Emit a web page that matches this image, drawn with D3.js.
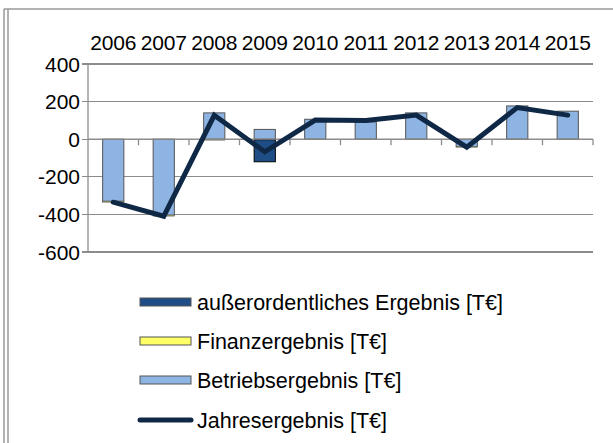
<!DOCTYPE html>
<html><head><meta charset="utf-8">
<script src="https://cdn.jsdelivr.net/npm/d3@7"></script>
<style>body{margin:0;background:#fff}svg{display:block}text{font-family:"Liberation Sans",Arial,sans-serif}</style>
</head><body><div id="c"></div>
<script>
const years = ["2006","2007","2008","2009","2010","2011","2012","2013","2014","2015"];
const betrieb = [-330,-404,140,52,106,92,140,-40,177,149];
const finanz = [-5,-5,-5,-3,-2,-2,-2,-2,-2,-2];
const ausser = [0,0,0,-117,0,0,0,0,0,0];
const jahres = [-335,-410,127,-67,102,100,128,-42,168,128];
const yTicks = [400,200,0,-200,-400,-600];
const seriesNames = ["außerordentliches Ergebnis [T€]","Finanzergebnis [T€]","Betriebsergebnis [T€]","Jahresergebnis [T€]"];

const W=613,H=443;
const svg=d3.select("#c").append("svg").attr("width",W).attr("height",H);
// frame
svg.append("line").attr("x1",4).attr("x2",4).attr("y1",9).attr("y2",H).attr("stroke","#999").attr("stroke-width",1.5);
svg.append("line").attr("x1",8).attr("x2",8).attr("y1",9).attr("y2",H).attr("stroke","#999").attr("stroke-width",1.5);
svg.append("line").attr("x1",4).attr("x2",W).attr("y1",9).attr("y2",9).attr("stroke","#999").attr("stroke-width",1.5);

const x=d3.scaleBand().domain(years).range([88,593]).paddingInner(0.58).paddingOuter(0.29);
const xb=d3.scaleBand().domain(years).range([88,593]);
const y=d3.scaleLinear().domain([-600,400]).range([252,64]);

// gridlines
svg.append("g").selectAll("line").data(yTicks).join("line")
 .attr("x1",82).attr("x2",593).attr("y1",d=>y(d)).attr("y2",d=>y(d))
 .attr("stroke","#8c8c8c").attr("stroke-width",1.3).attr("shape-rendering","crispEdges");
// y axis
svg.append("line").attr("x1",88).attr("x2",88).attr("y1",y(400)).attr("y2",y(-600)).attr("stroke","#8c8c8c").attr("stroke-width",1.3);
svg.append("g").selectAll("text").data(yTicks).join("text")
 .attr("x",80).attr("y",d=>y(d)+7.5).attr("text-anchor","end").attr("font-size",21).attr("fill","#000").text(d=>d);

// stacked bars
const stackData = years.map((yr,i)=>({yr, b:betrieb[i], f:finanz[i], a:ausser[i]}));
const keys=[["b","#8db4e2"],["f","#ffff66"],["a","#1f4e86"]];
stackData.forEach(d=>{
  let pos=0,neg=0;
  keys.forEach(([k,col])=>{
    const v=d[k]; if(v===0) return;
    let y0,y1;
    if(v>0){y0=pos;y1=pos+v;pos=y1;} else {y0=neg;y1=neg+v;neg=y1;}
    svg.append("rect").attr("x",x(d.yr)).attr("width",x.bandwidth())
      .attr("y",y(Math.max(y0,y1))).attr("height",Math.abs(y(y0)-y(y1)))
      .attr("fill",col).attr("stroke",k==="a"?"#000":"#555").attr("stroke-width",k==="f"?0.6:1);
  });
});

// x axis at 0
svg.append("line").attr("x1",88).attr("x2",593).attr("y1",y(0)).attr("y2",y(0)).attr("stroke","#8c8c8c").attr("stroke-width",1.3);
svg.append("g").selectAll("line").data(years.slice(1).concat(["end"])).join("line")
 .attr("x1",d=>d==="end"?593:xb(d)).attr("x2",d=>d==="end"?593:xb(d))
 .attr("y1",y(0)).attr("y2",y(0)+6).attr("stroke","#8c8c8c").attr("stroke-width",1.3);
// year labels
svg.append("g").selectAll("text").data(years).join("text")
 .attr("x",d=>xb(d)+xb.bandwidth()/2).attr("y",50).attr("text-anchor","middle")
 .attr("font-size",21).attr("letter-spacing",-0.2).attr("fill","#000").text(d=>d);

// line
const line=d3.line().x((d,i)=>xb(years[i])+xb.bandwidth()/2).y(d=>y(d));
svg.append("path").datum(jahres).attr("d",line).attr("fill","none")
 .attr("stroke","#0f2846").attr("stroke-width",5).attr("stroke-linejoin","miter").attr("stroke-linecap","round");

// legend
const lg=svg.append("g");
const rowsY=[302,341,380,420];
const swCols=["#1f4e86","#ffff66","#8db4e2"];
seriesNames.forEach((n,i)=>{
  const yy=rowsY[i];
  if(i<3){
    lg.append("rect").attr("x",140).attr("y",yy-4).attr("width",51).attr("height",8)
      .attr("fill",swCols[i]).attr("stroke","#555").attr("stroke-width",1);
  } else {
    lg.append("line").attr("x1",140).attr("x2",191).attr("y1",yy).attr("y2",yy)
      .attr("stroke","#0f2846").attr("stroke-width",5).attr("stroke-linecap","round");
  }
  lg.append("text").attr("x",197).attr("y",yy+8).attr("font-size",21.5).attr("fill","#000").text(n);
});
</script></body></html>
